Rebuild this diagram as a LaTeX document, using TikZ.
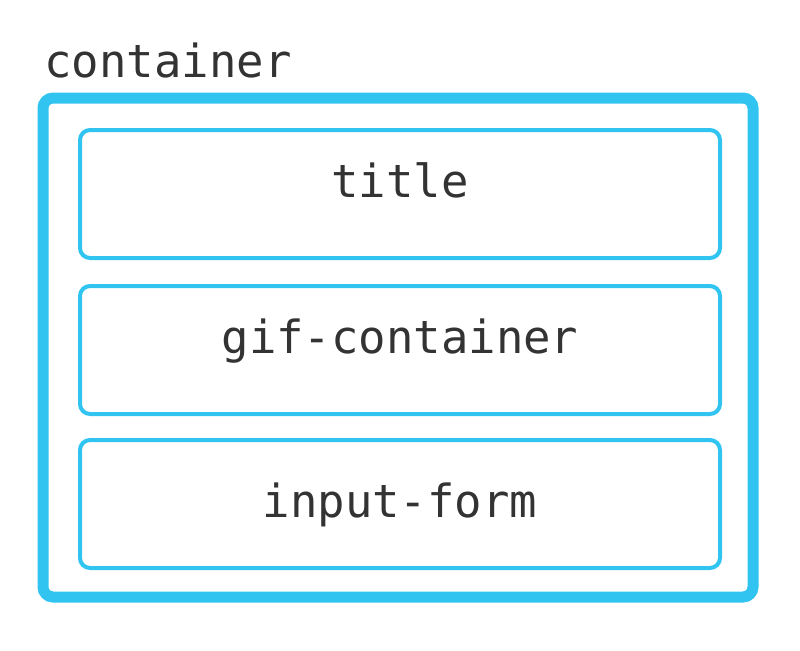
\documentclass[tikz,border=0pt]{standalone}
\usepackage{fontspec}
\setmonofont{DejaVu Sans Mono}
\definecolor{boxcyan}{RGB}{50,196,240}
\definecolor{labelgray}{RGB}{51,51,51}
\begin{document}
\begin{tikzpicture}[x=0.5pt,y=-0.5pt]
				\tikzstyle{label text}=[text=labelgray,font=\ttfamily\fontsize{22.8}{27}\selectfont,inner sep=0pt]
				\tikzstyle{outer box}=[draw=boxcyan,line width=5.5pt,rounded corners=5pt,minimum width=355pt,minimum height=249.5pt,inner sep=0pt]
				\tikzstyle{inner box}=[draw=boxcyan,line width=2pt,rounded corners=5pt,minimum width=320pt,minimum height=64pt,inner sep=0pt]
				
				\useasboundingbox (0,0) rectangle (800,650);
				
				% Contenedor exterior
				\node[outer box] (container) at (398,347.5) {};
				\node[label text,anchor=base west] (container-label) at (44,77) {container};
				
				% Cajas interiores
				\foreach \name / \y / \base / \txt in {title/194/197/title, gif/350/353/gif-container, form/504/517/input-form}
				{
				\node[inner box] (\name) at (400,\y) {};
				\node[label text,anchor=base] (\name-text) at (400,\base) {\txt};
				}
			\end{tikzpicture}
\end{document}
